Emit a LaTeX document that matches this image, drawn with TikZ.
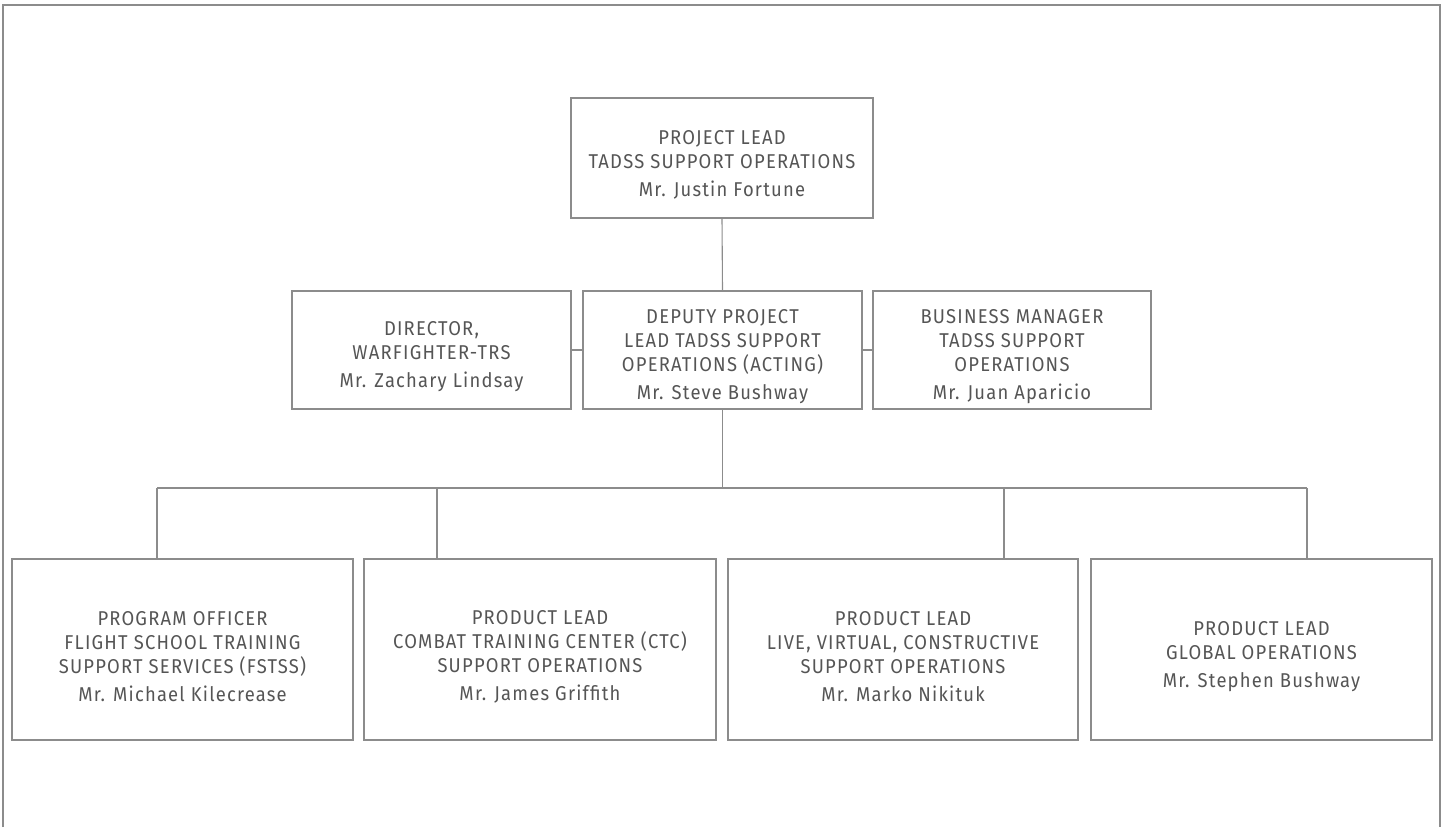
\documentclass[tikz,border=0pt]{standalone}
\usepackage{fontspec}
\setmainfont[FakeStretch=0.92, LetterSpace=6]{Fira Sans}
\usetikzlibrary{positioning}

\definecolor{frameline}{HTML}{8C8C8C}
\definecolor{officetext}{HTML}{555555}

% extra room above the first line, so the text sits a little low in its box
\newcommand{\toppad}{\rule{0pt}{28pt}}

\tikzset{
  office/.style={draw=frameline, line width=1.2pt, rectangle, align=center,
    text=officetext, inner sep=0pt, font=\fontsize{20}{24}\selectfont},
  link/.style={draw=frameline, line width=1.1pt}
}

\begin{document}
\begin{tikzpicture}[x=1pt, y=-1pt]
  \useasboundingbox (0,0) rectangle (1453,827);
  % open frame round the chart
  \draw[link, line width=1.4pt] (3,827) -- (3,5) -- (1440,5) -- (1440,827);

  % top
  \node[office, minimum width=302pt, minimum height=120pt] (lead) at (722,158)
    {\toppad PROJECT LEAD\\TADSS SUPPORT OPERATIONS\\[4pt]Mr. Justin Fortune};

  % middle row
  \node[office, minimum width=279pt, minimum height=118pt] (director) at (431.5,350)
    {\toppad DIRECTOR,\\WARFIGHTER-TRS\\[4pt]Mr. Zachary Lindsay};
  \node[office, minimum width=279pt, minimum height=118pt] (deputy) at (722.5,350)
    {\toppad DEPUTY PROJECT\\LEAD TADSS SUPPORT\\OPERATIONS (ACTING)\\[4pt]Mr. Steve Bushway};
  \node[office, minimum width=278pt, minimum height=118pt] (business) at (1012,350)
    {\toppad BUSINESS MANAGER\\TADSS SUPPORT\\OPERATIONS\\[4pt]Mr. Juan Aparicio};

  % bottom row
  \node[office, minimum width=341pt, minimum height=181pt] (fstss) at (182.5,649.5)
    {\toppad PROGRAM OFFICER\\FLIGHT SCHOOL TRAINING\\SUPPORT SERVICES (FSTSS)\\[4pt]Mr. Michael Kilecrease};
  \node[office, minimum width=352pt, minimum height=181pt] (ctc) at (540,649.5)
    {\toppad PRODUCT LEAD\\COMBAT TRAINING CENTER (CTC)\\SUPPORT OPERATIONS\\[4pt]Mr. James Griffith};
  \node[office, minimum width=350pt, minimum height=181pt] (lvc) at (903,649.5)
    {\toppad PRODUCT LEAD\\LIVE, VIRTUAL, CONSTRUCTIVE\\SUPPORT OPERATIONS\\[4pt]Mr. Marko Nikituk};
  \node[office, minimum width=341pt, minimum height=181pt] (global) at (1261.5,649.5)
    {\toppad PRODUCT LEAD\\GLOBAL OPERATIONS\\[4pt]Mr. Stephen Bushway};

  % connectors
  \draw[link] (lead.south) -- (deputy.north);
  \draw[link] (director.east) -- (deputy.west);
  \draw[link] (deputy.east) -- (business.west);

  \coordinate (hub) at (722.5,488);
  \coordinate (busL) at (157,488);
  \coordinate (busR) at (1307,488);
  \draw[link] (deputy.south) -- (hub);
  \draw[link] (busL) -- (busR);
  \foreach \x/\unit in {157/fstss, 437/ctc, 1004/lvc, 1307/global}{
    \coordinate (drop) at (\x,488);
    \draw[link] (drop) -- (drop |- \unit.north);
  }
\end{tikzpicture}
\end{document}
